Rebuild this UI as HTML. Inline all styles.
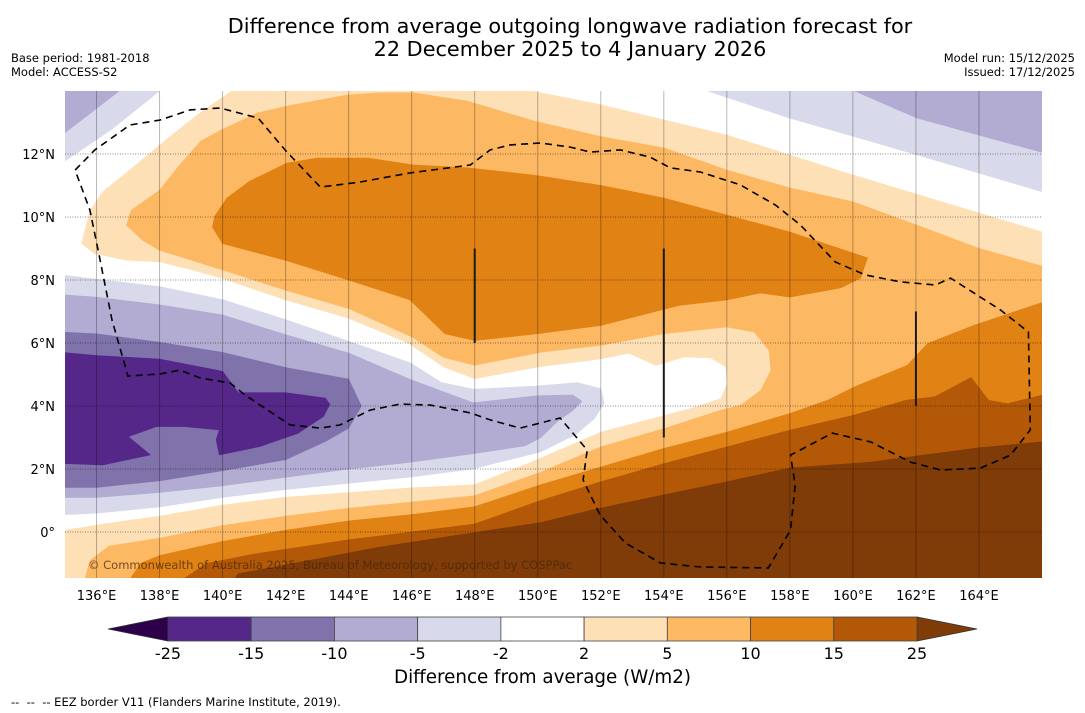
<!DOCTYPE html>
<html>
<head>
<meta charset="utf-8">
<style>
  html,body{margin:0;padding:0;background:#fff;}
  body{width:1085px;height:713px;position:relative;overflow:hidden;font-family:"Liberation Sans","DejaVu Sans",sans-serif;}
  .t{position:absolute;white-space:nowrap;color:#000;}
</style>
</head>
<body>
<div class="t" style="left:0;width:1140px;top:15px;text-align:center;font-size:20.8px;line-height:23px;font-family:'DejaVu Sans',sans-serif;">Difference from average outgoing longwave radiation forecast for<br>22 December 2025 to 4 January 2026</div>
<div class="t" style="left:11px;top:51px;font-size:11.5px;font-family:'DejaVu Sans',sans-serif;">Base period: 1981-2018</div>
<div class="t" style="left:11px;top:65px;font-size:11.5px;font-family:'DejaVu Sans',sans-serif;">Model: ACCESS-S2</div>
<div class="t" style="right:10px;top:51px;font-size:11.5px;text-align:right;font-family:'DejaVu Sans',sans-serif;">Model run: 15/12/2025</div>
<div class="t" style="right:10px;top:65px;font-size:11.5px;text-align:right;font-family:'DejaVu Sans',sans-serif;">Issued: 17/12/2025</div>

<svg id="chart" width="1085" height="713" style="position:absolute;left:0;top:0;" xmlns="http://www.w3.org/2000/svg">
  <defs><clipPath id="mapclip"><rect x="65" y="91" width="977" height="487"/></clipPath></defs>
  <g id="map" clip-path="url(#mapclip)"></g>
  <g id="axes"></g>
  <g id="cbar"></g>
</svg>
<div class="t" style="left:88px;top:558px;font-size:11.5px;color:rgba(70,40,10,0.75);font-family:'DejaVu Sans',sans-serif;">© Commonwealth of Australia 2025, Bureau of Meteorology, supported by COSPPac</div>
<div class="t" style="left:0;width:1085px;top:667px;text-align:center;font-size:18.3px;font-family:'DejaVu Sans',sans-serif;">Difference from average (W/m2)</div>
<div class="t" style="left:11px;top:695px;font-size:11.5px;font-family:'DejaVu Sans',sans-serif;">-- &nbsp;-- &nbsp;-- EEZ border V11 (Flanders Marine Institute, 2019).</div>

<script>
// ---- data (lon, lat) ----
const lonTicks = [136,138,140,142,144,146,148,150,152,154,156,158,160,162,164];
const latTicks = [0,2,4,6,8,10,12];
const cbarLabels = ["-25","-15","-10","-5","-2","2","5","10","15","25"];
const cbarColors = ["#542788","#8073ac","#b2abd2","#d8daeb","#ffffff","#fee0b6","#fdb863","#e08214","#b35806"];

const regionPos2 = [[166,9.52],[160,11.33],[156,12.6],[152,13.56],[150.1,13.94],[149.8,14],[140.3,14],[139.2,13.24],[138.2,12.44],[137.06,11.49],[136.2,10.8],[135.8,10.2],[135.53,9.16],[135.95,8.84],[136.95,8.63],[138,8.58],[139.05,8.32],[140,8.05],[142,7.37],[144,6.79],[145.9,6.0],[147,5.25],[148,4.87],[150,5.24],[152,5.5],[152.9,5.68],[153.75,5.29],[154.65,5.56],[155.49,5.53],[155.97,5.24],[156.02,4.71],[155.81,4.23],[154.86,3.92],[154.03,3.7],[152,3.17],[150,2.3],[148,1.5],[146,1.4],[144,1.25],[142,1.1],[140,0.85],[138,0.5],[136,0.22],[135,0.05],[135,-1.6],[166.2,-1.6]];
const regionPos5 = [[139.3,12.4],[139.9,12.73],[141.1,13.3],[142.05,13.52],[143.95,13.87],[145,13.94],[146.05,13.94],[147.76,13.68],[149.86,13.05],[152,12.55],[154,12.19],[156,11.49],[158,10.92],[160,10.48],[162,9.75],[164,9.0],[166.2,8.38],[166.2,-1.6],[135.6,-1.6],[135.8,-0.9],[136.4,-0.45],[138,-0.2],[140,0.2],[142,0.5],[144,0.75],[146,0.95],[148,1.15],[150.1,1.9],[152,2.7],[154,3.28],[155.8,3.86],[156.44,4.02],[157.08,4.5],[157.4,5.13],[157.34,5.77],[156.87,6.35],[156,6.51],[154,6.3],[152,5.93],[150.1,5.71],[148,5.3],[147,5.55],[146,6.2],[144,7.1],[142,7.68],[140,8.32],[138,8.95],[137.47,9.26],[136.95,9.74],[137.1,10.21],[138,10.84],[138.6,11.6]];
const regionPos10Upper = [[139.76,10.03],[140.14,10.6],[140.87,11.14],[142.05,11.71],[143,11.87],[144.6,11.87],[146.05,11.65],[147.76,11.56],[149.86,11.33],[152,11.0],[154,10.6],[156,10.06],[158,9.52],[160.46,8.7],[160.24,8.06],[159.6,7.75],[158,7.46],[157.06,7.59],[156,7.37],[154.5,7.2],[152,6.56],[150,6.3],[148,6.08],[147.05,6.3],[145.95,7.37],[144,8.0],[142,8.63],[140,9.16],[139.68,9.68]];
const regionPos10Lower = [[166.2,7.35],[163.85,6.56],[162.37,5.98],[161.73,5.29],[160.04,4.6],[159.2,4.18],[158,3.76],[156,3.17],[154,2.65],[152,2.06],[150.1,1.5],[148,0.8],[146,0.55],[144,0.35],[142,0.05],[140,-0.3],[138,-0.75],[137.4,-1.0],[137,-1.6],[166.2,-1.6]];
const regionPos15 = [[138.6,-1.6],[139.5,-1.0],[141,-0.7],[144,-0.25],[146,0.0],[148,0.25],[150.1,1.0],[152,1.59],[154,2.17],[156,2.7],[158,3.23],[160,3.7],[161.7,4.18],[162.6,4.29],[163.75,4.9],[164.3,4.18],[164.9,4.07],[166.2,4.39],[166.2,-1.6]];
const regionPos25 = [[140.3,-1.6],[140.5,-1.33],[145,-0.48],[150.1,0.3],[152,0.76],[156,1.59],[158,2.03],[160.6,2.22],[164,2.67],[166.2,2.88],[166.2,-1.6]];

const regionNeg2Main = [[134.9,8.16],[136,8.02],[138,7.79],[140,7.37],[142,6.74],[144,6.05],[145.95,5.37],[146.95,4.74],[147.95,4.53],[149.95,4.63],[151.26,4.74],[152.0,4.55],[152.1,4.1],[151.8,3.6],[151.2,3.1],[150.1,2.55],[147.9,2.0],[146,1.75],[144,1.55],[142,1.35],[140,1.1],[138,0.8],[136,0.6],[134.9,0.55]];
const regionNeg5Main = [[134.9,7.53],[136,7.45],[138,7.21],[140,6.89],[142,6.26],[144,5.68],[145.95,4.84],[147.95,4.1],[149.95,4.32],[151.1,4.35],[151.4,4.15],[151.1,3.85],[150.6,3.5],[150.1,3.0],[149.6,2.74],[147.9,2.48],[145.9,2.21],[144,2.0],[142,1.74],[140,1.47],[138,1.26],[136,1.1],[134.9,1.1]];
const regionNeg10 = [[134.9,6.34],[136,6.29],[138,6.02],[140,5.7],[142,5.22],[144,4.85],[144.4,4.0],[144.0,3.3],[143.3,2.9],[142,2.3],[140,1.95],[138,1.63],[136,1.42],[134.9,1.42]];
const regionNeg15 = [[134.9,5.7],[136,5.6],[138,5.49],[140,5.1],[140.5,4.42],[142,4.42],[143.26,4.25],[143.4,4.05],[143.2,3.67],[142.4,3.14],[141.2,2.72],[139.9,2.45],[139.8,2.93],[139.9,3.24],[138.8,3.35],[137.9,3.35],[137,3.03],[137.7,2.45],[136.2,2.13],[134.9,2.18]];
const regionNeg2TopRight = [[154.8,14.2],[158,13.14],[160.65,12.38],[166.2,10.75],[166.2,14.2]];
const regionNeg5TopRight = [[159.6,14.2],[162.05,13.14],[166.2,12.0],[166.2,14.2]];
const regionNeg2TopLeft = [[134.9,14.2],[138.24,14.2],[136.5,12.8],[134.9,11.71]];
const regionNeg5TopLeft = [[134.9,14.2],[136.97,14.2],[134.9,12.6]];

const eezLine = [[135.32,11.49],[135.95,12.13],[137.06,12.92],[138.02,13.08],[138.97,13.4],[139.92,13.46],[141.13,13.14],[141.98,12.13],[143.1,10.95],[144.37,11.11],[145.95,11.4],[147.86,11.65],[148.49,12.13],[149.13,12.29],[150.08,12.35],[151.03,12.22],[151.67,12.06],[152.62,12.13],[153.57,11.9],[154.21,11.56],[155.16,11.43],[156.43,11.02],[157.54,10.38],[158.33,9.75],[159.44,8.57],[160.4,8.16],[161.51,7.94],[162.62,7.84],[163.1,8.06],[164.68,7.05],[165.57,6.35],[165.63,3.24],[165.0,2.44],[164.05,2.03],[162.78,1.97],[161.83,2.22],[160.56,2.86],[159.35,3.14],[158.02,2.44],[158.17,1.49],[158.02,0.06],[157.32,-1.14],[155.16,-1.11],[153.89,-0.98],[152.78,-0.35],[151.98,0.54],[151.44,1.65],[151.57,2.6],[151.03,3.24],[150.71,3.62],[149.44,3.3],[148.49,3.56],[147.86,3.78],[146.59,4.03],[145.63,4.06],[144.68,3.87],[143.73,3.4],[143.1,3.3],[142.14,3.4],[140.71,4.35],[140.24,4.73],[139.29,4.89],[138.65,5.14],[138.02,5.02],[137.0,4.95],[136.49,6.73],[136.05,8.95],[135.79,10.22],[135.32,11.49]];
const barLons = [148,154,162];
const barLatTop = [9,9,7];
const barLatBottom = [6,3,4];

// ---- axis functions ----
const X0=65, X1=1042, Y0=91, Y1=578, LON0=135, LON1=166, LAT0=14, LAT1=-1.46;
function xs(lon){return X0+(lon-LON0)*(X1-X0)/(LON1-LON0);}
function ys(lat){return Y0+(LAT0-lat)*(Y1-Y0)/(LAT0-LAT1);}
const NS='http://www.w3.org/2000/svg';
function mk(tag,attrs,parent){const e=document.createElementNS(NS,tag);for(const k in attrs)e.setAttribute(k,attrs[k]);parent.appendChild(e);return e;}
function pts(arr){return arr.map(p=>xs(p[0]).toFixed(1)+','+ys(p[1]).toFixed(1)).join(' ');}

const map=document.getElementById('map');
const bg=mk('rect',{x:X0,y:Y0,width:X1-X0,height:Y1-Y0,fill:'#ffffff'},map);



const layers=[
 [regionPos2,'#fee0b6','contour-2-to-5'],
 [regionPos5,'#fdb863','contour-5-to-10'],
 [regionPos10Upper,'#e08214','contour-10-to-15-north'],
 [regionPos10Lower,'#e08214','contour-10-to-15-south'],
 [regionPos15,'#b35806','contour-15-to-25'],
 [regionPos25,'#7f3b08','contour-above-25'],
 [regionNeg2Main,'#d8daeb','contour-minus-2-to-5'],
 [regionNeg5Main,'#b2abd2','contour-minus-5-to-10'],
 [regionNeg10,'#8073ac','contour-minus-10-to-15'],
 [regionNeg15,'#542788','contour-below-minus-15'],
 [regionNeg2TopRight,'#d8daeb','contour-minus-2-northeast'],
 [regionNeg5TopRight,'#b2abd2','contour-minus-5-northeast'],
 [regionNeg2TopLeft,'#d8daeb','contour-minus-2-northwest'],
 [regionNeg5TopLeft,'#b2abd2','contour-minus-5-northwest']
];
layers.forEach(l=>{
  const p=mk('polygon',{points:pts(l[0]),fill:l[1],stroke:l[1],'stroke-width':0.8,'stroke-linejoin':'round'},map);
  
  
});

// gridlines
lonTicks.forEach(lon=>{
  const g=mk('line',{x1:xs(lon),x2:xs(lon),y1:Y0,y2:Y1,stroke:'rgba(0,0,0,0.28)','stroke-width':1},map);
  
  
});
latTicks.forEach(lat=>{
  const g=mk('line',{x1:X0,x2:X1,y1:ys(lat),y2:ys(lat),stroke:'rgba(0,0,0,0.45)','stroke-width':1,'stroke-dasharray':'1,1.5'},map);
  
  
});

// EEZ border
const eez=mk('polyline',{points:pts(eezLine),fill:'none',stroke:'#000','stroke-width':1.6,'stroke-dasharray':'7,5'},map);



// vertical bars
barLons.forEach((lon,i)=>{
  const b=mk('line',{x1:xs(lon),x2:xs(lon),y1:ys(barLatTop[i]),y2:ys(barLatBottom[i]),stroke:'#1a1a1a','stroke-width':2},map);
  
  
});

// axes labels
const axes=document.getElementById('axes');
lonTicks.forEach(lon=>{
  const t=mk('text',{x:xs(lon),y:600,'text-anchor':'middle','font-size':13,'font-family':'DejaVu Sans, Liberation Sans, sans-serif',fill:'#000'},axes);
  t.textContent=lon+'°E';
  
  
});
latTicks.forEach(lat=>{
  const t=mk('text',{x:55,y:ys(lat)+5,'text-anchor':'end','font-size':13,'font-family':'DejaVu Sans, Liberation Sans, sans-serif',fill:'#000'},axes);
  t.textContent=lat===0?'0°':lat+'°N';
  
  
});

// colorbar
const cb=document.getElementById('cbar');
const cbL=168, cbR=917, cbT=617, cbB=641, tri=60;
const segW=(cbR-cbL)/cbarColors.length;
const lt=mk('polygon',{points:`${cbL-tri},${(cbT+cbB)/2} ${cbL},${cbT} ${cbL},${cbB}`,fill:'#2d004b',stroke:'#333','stroke-width':0.8},cb);


const rt=mk('polygon',{points:`${cbR+tri},${(cbT+cbB)/2} ${cbR},${cbT} ${cbR},${cbB}`,fill:'#7f3b08',stroke:'#333','stroke-width':0.8},cb);


cbarColors.forEach((c,i)=>{
  const r=mk('rect',{x:cbL+i*segW,y:cbT,width:segW,height:cbB-cbT,fill:c,stroke:'#444','stroke-width':0.8},cb);
  
  
});
cbarLabels.forEach((s,i)=>{
  const t=mk('text',{x:cbL+i*segW,y:659,'text-anchor':'middle','font-size':16,'font-family':'DejaVu Sans, Liberation Sans, sans-serif',fill:'#000'},cb);
  t.textContent=s;
  
  
});
</script>
</body>
</html>
